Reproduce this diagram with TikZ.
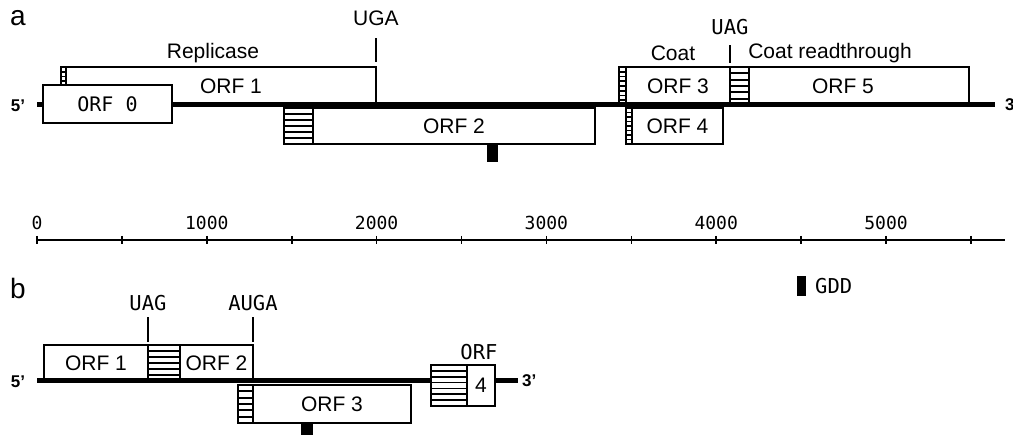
\documentclass[tikz,border=0pt]{standalone}
\usepackage{fontspec}
\setmainfont{Liberation Sans}
\newfontfamily\codefont{DejaVu Sans Mono}
\usetikzlibrary{positioning,calc}

\begin{document}
\begin{tikzpicture}[x=1pt, y=-1pt,
  orf/.style={draw, line width=1.5pt, fill=white, inner sep=0pt, outer sep=0pt,
              anchor=north west, font=\fontsize{21}{23}\selectfont},
  hatch/.style={orf, path picture={
      \foreach \k in {1,...,#1}
        \draw[line width=1.8pt]
          ($(path picture bounding box.north west)!{\k/(#1+1)}!(path picture bounding box.south west)$) --
          ($(path picture bounding box.north east)!{\k/(#1+1)}!(path picture bounding box.south east)$);}},
  lbl/.style={font=\fontsize{21}{23}\selectfont, inner sep=1pt},
  codon/.style={font=\codefont\fontsize{20.5}{23}\selectfont, inner sep=1pt},
  num/.style={font=\codefont\fontsize{18}{20}\selectfont, inner sep=1pt},
  panel/.style={font=\fontsize{28}{30}\selectfont, inner sep=0pt},
  endlbl/.style={font=\fontsize{17}{19}\selectfont\bfseries, inner sep=0pt},
  genome/.style={line width=5pt},
  stopline/.style={line width=1.5pt},
  axis/.style={line width=1.6pt},
  gdd/.style={fill=black, inner sep=0pt, outer sep=0pt, anchor=north}]
\useasboundingbox (0,0) rectangle (1013,435);

% ---- a: genome map
\node[panel] (pa) at (18,18) {a};
\node[hatch=7, minimum width=5pt, minimum height=38pt] (orf1h) at (61,67) {};
\node[orf, minimum width=310pt, minimum height=38pt, right=0pt of orf1h,
      label={[lbl, xshift=10pt]center:ORF 1}] (orf1) {};
\node[hatch=5, minimum width=29pt, minimum height=36pt] (orf2h) at (284,108) {};
\node[orf, minimum width=282pt, minimum height=36pt, right=0pt of orf2h] (orf2) {ORF 2};
\node[hatch=7, minimum width=7pt, minimum height=38pt] (orf3h) at (619,67) {};
\node[orf, minimum width=104pt, minimum height=38pt, right=0pt of orf3h] (orf3) {ORF 3};
\node[hatch=5, minimum width=19pt, minimum height=38pt, right=0pt of orf3] (orf5h) {};
\node[orf, minimum width=220pt, minimum height=38pt, right=0pt of orf5h,
      label={[lbl, xshift=-16pt]center:ORF 5}] (orf5) {};
\node[hatch=7, minimum width=6pt, minimum height=36pt] (orf4h) at (626,108) {};
\node[orf, minimum width=91pt, minimum height=36pt, right=0pt of orf4h] (orf4) {ORF 4};

\coordinate (a5) at (37,105);
\coordinate (a3) at (995,105);
\draw[genome] (a5) -- (a3);
\node[endlbl] (a5l) at (18,106) {5'};
\node[endlbl, right=10pt of a3] (a3l) {3};
\node[orf, font=\codefont\fontsize{20}{22}\selectfont, minimum width=129pt,
      minimum height=38pt] (orf0) at (43,85) {ORF 0};

\node[lbl] (uga) at (376,18) {UGA};
\draw[stopline] ([yshift=5pt]orf1.north east) -- ++(0,-24);
\node[codon] (uag) at (730,27) {UAG};
\draw[stopline] ([yshift=4pt]orf3.north east) -- ++(0,-18);
\node[lbl] (repl) at (213,53) {Replicase};
\node[lbl] (coat) at (673,53) {Coat};
\node[lbl] (coatrt) at (830,53) {Coat readthrough};
\node[gdd, minimum width=11pt, minimum height=18pt] (gdda) at (492.5,144) {};

% ---- scale
\coordinate (s0) at (37,240);
\coordinate (s1) at (1005,240);
\draw[axis] (s0) -- (s1);
\foreach \k in {0,...,11}
  \draw[axis] ($(s0)+({84.9*\k},-4)$) -- ++(0,8);
\foreach \k/\v in {0/0,1/1000,2/2000,3/3000,4/4000,5/5000}
  \node[num] (n\k) at ($(s0)+({169.8*\k},-17)$) {\v};

\node[gdd, anchor=center, minimum width=9pt, minimum height=20pt] (gddkey) at (801.5,286) {};
\node[codon, right=8pt of gddkey] (gddtxt) {GDD};

% ---- b: genome map
\node[panel] (pb) at (18,288) {b};
\node[orf, minimum width=104pt, minimum height=36pt] (borf1) at (44,345) {ORF 1};
\node[hatch=5, minimum width=32pt, minimum height=36pt, right=0pt of borf1] (borf2h) {};
\node[orf, minimum width=73pt, minimum height=36pt, right=0pt of borf2h] (borf2) {ORF 2};
\node[hatch=5, minimum width=15pt, minimum height=38pt] (borf3h) at (238,385) {};
\node[orf, minimum width=158pt, minimum height=38pt, right=0pt of borf3h] (borf3) {ORF 3};
\node[gdd, minimum width=12pt, minimum height=14pt] (gddb) at (307,423) {};

\coordinate (b5) at (37,381);
\coordinate (b3) at (518,381);
\draw[genome] (b5) -- (b3);
\node[endlbl] (b5l) at (18,382) {5'};
\node[endlbl, right=4pt of b3] (b3l) {3'};
\node[hatch=6, minimum width=36pt, minimum height=41pt] (borf4h) at (431,365) {};
\node[orf, minimum width=28pt, minimum height=41pt, right=0pt of borf4h] (borf4) {4};
\node[codon] (borf4l) at (479,352) {ORF};

\node[codon] (buag) at (148,303) {UAG};
\draw[stopline] ([yshift=3pt]borf1.north east) -- ++(0,-25);
\node[codon] (bauga) at (253,303) {AUGA};
\draw[stopline] ([yshift=3pt]borf2.north east) -- ++(0,-25);
\end{tikzpicture}
\end{document}
